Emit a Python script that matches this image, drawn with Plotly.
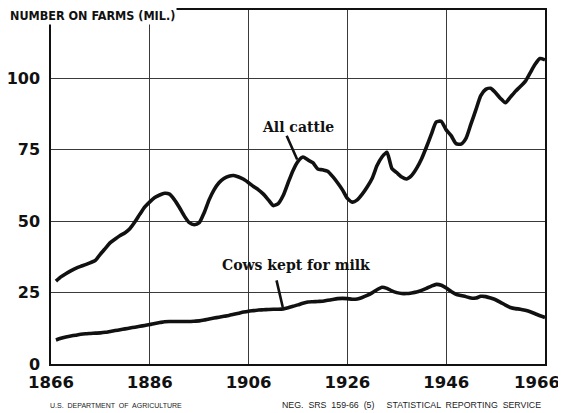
import plotly.graph_objects as go

# ── Data (millions head on farms) ─────────────────────────────────────────────

years = list(range(1867, 1967))

all_cattle = [
    29.0, 30.5, 31.6, 32.6, 33.5, 34.2, 34.8, 35.5, 36.3, 38.5,   # 1867-1876
    40.5, 42.5, 43.8, 45.0, 46.0, 47.5, 49.8, 52.5, 55.0, 56.8,   # 1877-1886
    58.3, 59.2, 59.8, 59.5, 57.5, 54.8, 51.8, 49.5, 48.8, 49.5,   # 1887-1896
    53.0, 57.5, 61.0, 63.5, 65.0, 65.8, 66.0, 65.5, 64.7, 63.5,   # 1897-1906
    62.2, 61.0, 59.5, 57.5, 55.5, 56.2, 59.0, 63.5, 67.8, 71.0,   # 1907-1916
    72.5, 71.5, 70.5, 68.3, 68.0, 67.5, 65.7, 63.5, 61.0, 58.0,   # 1917-1926
    56.7, 57.5, 59.5, 62.0, 65.0, 69.5, 72.5, 74.2, 68.5, 67.0,   # 1927-1936
    65.5, 64.8, 66.0, 68.5, 71.8, 76.0, 80.5, 84.8, 85.0, 82.0,   # 1937-1946
    80.0, 77.2, 77.0, 79.0, 84.0, 89.0, 94.0, 96.2, 96.6, 95.0,   # 1947-1956
    93.0, 91.5, 93.5, 95.5, 97.2, 99.0, 102.0, 105.0, 107.0, 106.5,  # 1957-1966
]

milk_cows = [
    8.4, 9.0, 9.5, 9.8, 10.1, 10.4, 10.6, 10.7, 10.8, 10.9,       # 1867-1876
    11.1, 11.4, 11.7, 12.0, 12.3, 12.6, 12.9, 13.2, 13.5, 13.8,   # 1877-1886
    14.2, 14.5, 14.8, 14.9, 14.9, 14.9, 14.9, 14.9, 15.0, 15.1,   # 1887-1896
    15.4, 15.8, 16.1, 16.4, 16.7, 17.0, 17.4, 17.8, 18.2, 18.5,   # 1897-1906
    18.7, 18.9, 19.0, 19.1, 19.2, 19.2, 19.3, 19.7, 20.2, 20.7,   # 1907-1916
    21.3, 21.7, 21.8, 21.9, 22.0, 22.3, 22.6, 22.9, 23.0, 22.9,   # 1917-1926
    22.7, 22.8, 23.3, 24.0, 24.9, 26.0, 26.9, 26.5, 25.6, 25.0,   # 1927-1936
    24.7, 24.7, 24.9, 25.2, 25.8, 26.5, 27.3, 27.9, 27.6, 26.6,   # 1937-1946
    25.4, 24.4, 24.0, 23.6, 23.1, 23.1, 23.7, 23.6, 23.1, 22.5,   # 1947-1956
    21.6, 20.6, 19.8, 19.4, 19.2, 18.8, 18.3, 17.6, 16.9, 16.3,   # 1957-1966
]

x_ticks = [1866, 1886, 1906, 1926, 1946, 1966]
x_tick_labels = ["1866", "1886", "1906", "1926", "1946", "1966"]
y_ticks = [0, 25, 50, 75, 100]

INK = "#111111"
GRID = "#3a3a3a"
SANS_BOLD = "DejaVu Sans, sans-serif"
NARROW = "Liberation Sans Narrow, DejaVu Sans Condensed, Arial Narrow, sans-serif"
SLAB = "DejaVu Serif, serif"
FOOT = "Liberation Sans, Arial, sans-serif"
TICK_FONT = dict(family=SANS_BOLD, size=16.5, color=INK, weight="bold")

fig = go.Figure()

for name, values in [("All cattle", all_cattle), ("Cows kept for milk", milk_cows)]:
    fig.add_trace(
        go.Scatter(
            x=years,
            y=values,
            mode="lines",
            name=name,
            line=dict(color=INK, width=3.6, shape="spline", smoothing=0.6),
            hoverinfo="skip",
        )
    )

# ── Series labels with pointer wedges ─────────────────────────────────────────

fig.add_annotation(
    x=1916.0, y=83.0, text="<b>All cattle</b>", showarrow=False,
    font=dict(family=SLAB, size=14, color=INK),
)
fig.add_annotation(
    x=1916, y=all_cattle[years.index(1916)], text="", showarrow=True,
    arrowhead=0, arrowwidth=2.6, arrowcolor=INK, ax=-12, ay=-27, standoff=2,
)
fig.add_annotation(
    x=1915.6, y=34.7, text="<b>Cows kept for milk</b>", showarrow=False,
    font=dict(family=SLAB, size=14, color=INK),
)
fig.add_annotation(
    x=1913, y=milk_cows[years.index(1913)], text="", showarrow=True,
    arrowhead=0, arrowwidth=2.6, arrowcolor=INK, ax=-7, ay=-30, standoff=2,
)

# last year label sits flush with the right edge, like the original
fig.add_annotation(
    x=x_ticks[-1], xref="x", yref="paper", y=-0.052, xanchor="right", yanchor="middle",
    xshift=17, text=x_tick_labels[-1], showarrow=False, font=TICK_FONT,
)

# ── Header / footer text ──────────────────────────────────────────────────────

fig.add_annotation(
    xref="paper", yref="paper", x=-0.087, y=0.985, xanchor="left", yanchor="middle",
    text="<b>NUMBER ON FARMS (MIL.)</b>", showarrow=False, bgcolor="white",
    font=dict(family=NARROW, size=12.5, color=INK),
)
fig.add_annotation(
    xref="paper", yref="paper", x=-0.006, y=-0.116, xanchor="left", yanchor="middle",
    text="U.S.  DEPARTMENT  OF  AGRICULTURE", showarrow=False,
    font=dict(family=FOOT, size=7, color="#222222"),
)
fig.add_annotation(
    xref="paper", yref="paper", x=0.996, y=-0.116, xanchor="right", yanchor="middle",
    text="NEG.  SRS  159-66  (5)     STATISTICAL  REPORTING  SERVICE",
    showarrow=False,
    font=dict(family=FOOT, size=8.8, color="#222222"),
)

# page body adds an 8px offset, margins compensate so the frame lands in place
fig.update_layout(
    width=566,
    height=413,
    plot_bgcolor="white",
    paper_bgcolor="white",
    showlegend=False,
    margin=dict(l=43, r=29, t=2, b=57, autoexpand=False),
    xaxis=dict(
        range=[1866, 1966],
        tickvals=x_ticks,
        ticktext=x_tick_labels[:-1] + [""],
        showgrid=True,
        gridcolor=GRID,
        gridwidth=1,
        zeroline=False,
        showline=True,
        linecolor=INK,
        linewidth=2,
        mirror=True,
        ticks="",
        automargin=False,
        ticklabelstandoff=2,
        tickfont=TICK_FONT,
    ),
    yaxis=dict(
        range=[0, 124],
        tickvals=y_ticks,
        showgrid=True,
        gridcolor=GRID,
        gridwidth=1,
        zeroline=False,
        showline=True,
        linecolor=INK,
        linewidth=1.5,
        mirror=True,
        ticks="",
        automargin=False,
        ticklabelstandoff=6,
        tickfont=dict(family=SANS_BOLD, size=16, color=INK, weight="bold"),
    ),
)

fig.write_html("out.html")
